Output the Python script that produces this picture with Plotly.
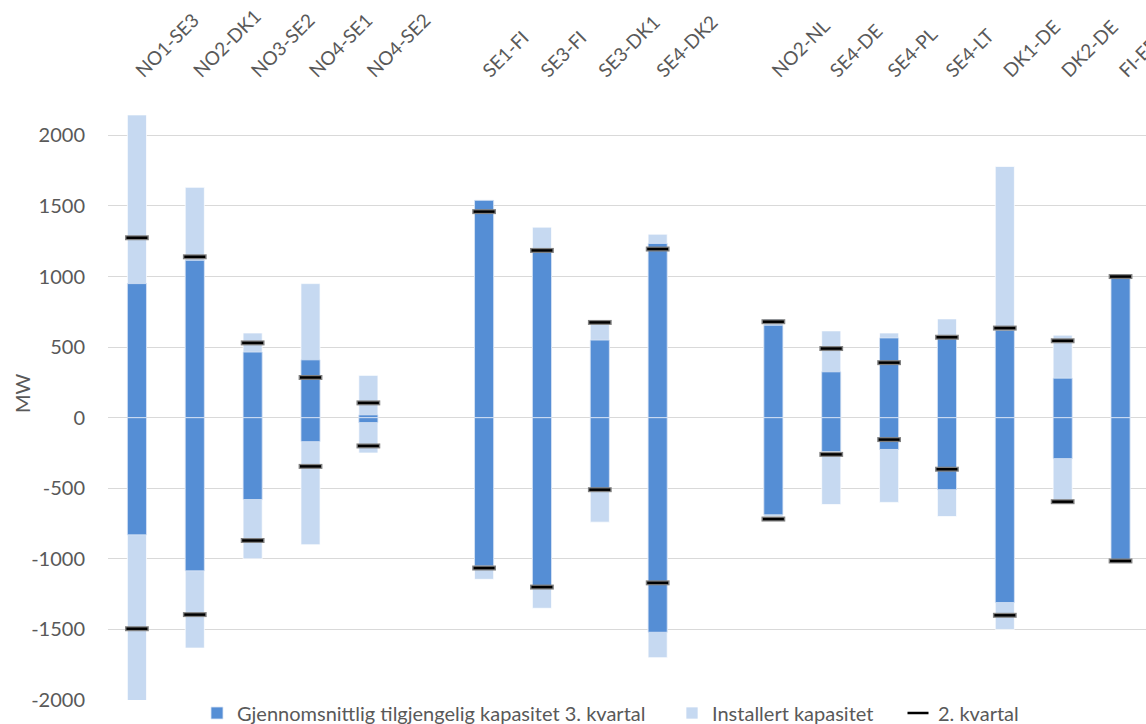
import plotly.graph_objects as go

categories = ["NO1-SE3", "NO2-DK1", "NO3-SE2", "NO4-SE1", "NO4-SE2", " ",
              "SE1-FI", "SE3-FI", "SE3-DK1", "SE4-DK2", "  ",
              "NO2-NL", "SE4-DE", "SE4-PL", "SE4-LT", "DK1-DE", "DK2-DE", "FI-EE"]

installed_max = [2145, 1632, 600, 950, 300, None, 1500, 1350, 680, 1300, None, 700, 615, 600, 700, 1780, 585, 1016]
installed_min = [-2095, -1632, -1000, -900, -250, None, -1145, -1350, -740, -1700, None, -700, -615, -600, -700, -1500, -585, -1016]
available_max = [950, 1115, 465, 410, 20, None, 1540, 1195, 550, 1235, None, 655, 325, 565, 560, 620, 280, 990]
available_min = [-830, -1085, -580, -170, -35, None, -1050, -1190, -520, -1520, None, -688, -240, -225, -510, -1310, -290, -1016]
q2_max = [1275, 1140, 530, 285, 105, None, 1460, 1185, 675, 1195, None, 680, 490, 390, 570, 635, 545, 1000]
q2_min = [-1495, -1395, -870, -345, -200, None, -1065, -1200, -510, -1170, None, -718, -260, -155, -365, -1400, -595, -1015]

y_ticks = [-2000, -1500, -1000, -500, 0, 500, 1000, 1500, 2000]

DARK = "#558ed5"
LIGHT = "#c6d9f1"
FONT = "Lato"
TXT = "#595959"
BW = 0.33

fig = go.Figure()

# installed capacity (behind)
fig.add_trace(go.Bar(x=categories, y=installed_max, base=0, width=BW,
                     marker=dict(color=LIGHT, line=dict(color="rgba(255,255,255,0.7)", width=1)),
                     name="Installert kapasitet", legendgroup="inst", legendrank=2, legendwidth=181))
fig.add_trace(go.Bar(x=categories, y=installed_min, base=0, width=BW,
                     marker=dict(color=LIGHT, line=dict(color="rgba(255,255,255,0.7)", width=1)),
                     name="Installert kapasitet", legendgroup="inst", showlegend=False))
# available capacity
fig.add_trace(go.Bar(x=categories, y=available_max, base=0, width=BW,
                     marker=dict(color=DARK, line=dict(color="rgba(220,230,245,0.8)", width=1)),
                     name="Gjennomsnittlig tilgjengelig kapasitet 3. kvartal", legendgroup="avail",
                     legendrank=1, legendwidth=430))
fig.add_trace(go.Bar(x=categories, y=available_min, base=0, width=BW,
                     marker=dict(color=DARK, line=dict(color="rgba(220,230,245,0.8)", width=1)),
                     name="Gjennomsnittlig tilgjengelig kapasitet 3. kvartal", legendgroup="avail",
                     showlegend=False))

# Q2 markers
qx = categories + categories
qy = q2_max + q2_min
fig.add_trace(go.Scatter(x=qx, y=qy, mode="markers", showlegend=False, hoverinfo="skip",
                         marker=dict(symbol="line-ew", size=17, line=dict(color="#808080", width=5))))
fig.add_trace(go.Scatter(x=qx, y=qy, mode="markers", name="2. kvartal", legendrank=3,
                         marker=dict(symbol="line-ew", size=15, line=dict(color="black", width=2.5))))

fig.update_layout(
    width=1146, height=724,
    margin=dict(l=108, r=0, t=86, b=24, autoexpand=False),
    paper_bgcolor="white", plot_bgcolor="white",
    barmode="overlay",
    font=dict(family=FONT, color=TXT, size=20),
    legend=dict(orientation="h", xref="container", x=197 / 1146, xanchor="left",
                yref="container", y=11 / 724, yanchor="middle",
                font=dict(size=20, color=TXT), traceorder="normal"),
    xaxis=dict(type="category", categoryorder="array", categoryarray=categories,
               range=[-0.5, 17.44], side="top", tickangle=-45, showgrid=False,
               showline=False, zeroline=False, tickfont=dict(size=19, color=TXT), automargin=False),
    yaxis=dict(range=[-2000, 2350], tickvals=y_ticks, ticktext=[str(v) for v in y_ticks],
               showgrid=True, gridcolor="#d9d9d9", gridwidth=1, zeroline=False, showline=False,
               ticks="outside", ticklen=18, tickcolor="rgba(0,0,0,0)",
               tickfont=dict(size=20, color=TXT), automargin=False),
    annotations=[dict(text="MW", textangle=-90, xref="paper", yref="paper",
                      x=(22 - 108) / 1038, y=0.5, xanchor="center", yanchor="middle",
                      showarrow=False, font=dict(size=20, color=TXT))],
)

fig.write_html("out.html")
